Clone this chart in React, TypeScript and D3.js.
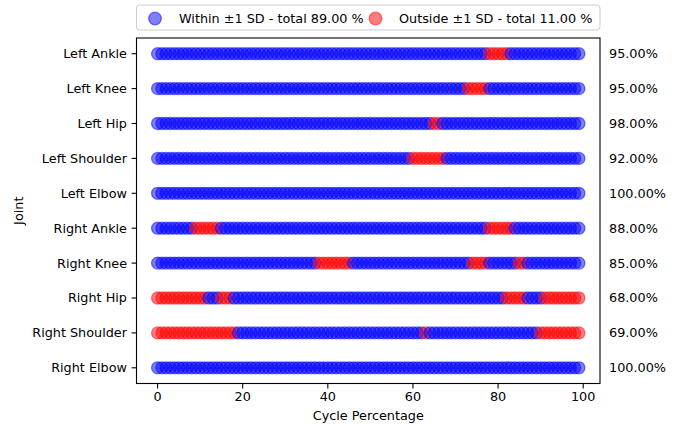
import React from "react";
import * as d3 from "d3";

const joints = [
  "Left Ankle",
  "Left Knee",
  "Left Hip",
  "Left Shoulder",
  "Left Elbow",
  "Right Ankle",
  "Right Knee",
  "Right Hip",
  "Right Shoulder",
  "Right Elbow",
];

// cycle percentage samples (0..99)
const cyclePoints = d3.range(0, 100);

// inclusive index ranges of samples outside ±1 SD, per joint
const outsideRanges: [number, number][][] = [
  [[78, 82]],
  [[73, 77]],
  [[65, 66]],
  [[60, 67]],
  [],
  [[9, 14], [78, 83]],
  [[38, 45], [74, 77], [85, 86]],
  [[0, 11], [15, 17], [82, 86], [91, 99]],
  [[0, 18], [63, 63], [90, 99]],
  [],
];

// percentage within ±1 SD printed per joint
const withinPct = [95, 95, 98, 92, 100, 88, 85, 68, 69, 100];

// legend totals
const totalWithin = 89;
const totalOutside = 11;

const xTicks = [0, 20, 40, 60, 80, 100];

const W = 679;
const H = 426;
const left = 136.5;
const right = 600;
const top = 38;
const bottom = 383.5;
const FONT = "'DejaVu Sans', sans-serif";
const FS = 12.8;

export default function App() {
  const x = d3.scaleLinear().domain([-4.95, 103.95]).range([left, right]);
  const y = d3.scaleLinear().domain([-0.45, joints.length - 1 + 0.45]).range([top, bottom]);

  const isOutside = (j: number, p: number) =>
    outsideRanges[j].some(([a, b]) => p >= a && p <= b);

  const pts: { j: number; p: number; out: boolean }[] = [];
  joints.forEach((_, j) => {
    cyclePoints.forEach((p) => pts.push({ j, p, out: isOutside(j, p) }));
  });

  const blue = "#0000ff";
  const red = "#ff0000";

  return (
    <svg
      width={W}
      height={H}
      style={{ position: "absolute", left: 0, top: 0, background: "#fff" }}
      fontFamily={FONT}
      fontSize={FS}
    >
      <rect width={W} height={H} fill="#fff" />
      {/* points */}
      <g>
        {pts.map((d, i) => (
          <circle
            key={i}
            cx={x(d.p)}
            cy={y(d.j)}
            r={6}
            fill={d.out ? red : blue}
            fillOpacity={0.5}
            stroke={d.out ? red : blue}
            strokeOpacity={0.5}
            strokeWidth={1.3}
          />
        ))}
      </g>
      {/* percentage labels */}
      {withinPct.map((v, j) => (
        <text key={j} x={609} y={y(j)} dy="0.35em" fill="#000">
          {v.toFixed(2) + "%"}
        </text>
      ))}
      {/* frame */}
      <rect
        x={left}
        y={top}
        width={right - left}
        height={bottom - top}
        fill="none"
        stroke="#000"
        strokeWidth={1.1}
      />
      {/* x ticks */}
      {xTicks.map((t) => (
        <g key={t}>
          <line x1={x(t)} x2={x(t)} y1={bottom} y2={bottom + 4.9} stroke="#000" strokeWidth={1.1} />
          <text x={x(t)} y={bottom + 7} dy="0.8em" textAnchor="middle" fill="#000">
            {t}
          </text>
        </g>
      ))}
      {/* y ticks */}
      {joints.map((name, j) => (
        <g key={name}>
          <line x1={left - 4.9} x2={left} y1={y(j)} y2={y(j)} stroke="#000" strokeWidth={1.1} />
          <text x={left - 9.5} y={y(j)} dy="0.35em" textAnchor="end" fill="#000">
            {name}
          </text>
        </g>
      ))}
      {/* axis labels */}
      <text x={(left + right) / 2} y={420} textAnchor="middle" fill="#000">
        Cycle Percentage
      </text>
      <text
        transform={`translate(${23},${(top + bottom) / 2}) rotate(-90)`}
        textAnchor="middle"
        fill="#000"
      >
        Joint
      </text>
      {/* legend */}
      <g>
        <rect
          x={left}
          y={5}
          width={right - left}
          height={25}
          rx={3}
          fill="#fff"
          fillOpacity={0.8}
          stroke="#cccccc"
          strokeWidth={1}
        />
        <circle cx={155} cy={18.5} r={6.3} fill={blue} fillOpacity={0.5} stroke={blue} strokeOpacity={0.5} strokeWidth={1.3} />
        <text x={179} y={18.5} dy="0.35em" fill="#000">
          {`Within ±1 SD - total ${totalWithin.toFixed(2)} %`}
        </text>
        <circle cx={375.5} cy={18.5} r={6.3} fill={red} fillOpacity={0.5} stroke={red} strokeOpacity={0.5} strokeWidth={1.3} />
        <text x={399} y={18.5} dy="0.35em" fill="#000">
          {`Outside ±1 SD - total ${totalOutside.toFixed(2)} %`}
        </text>
      </g>
    </svg>
  );
}
